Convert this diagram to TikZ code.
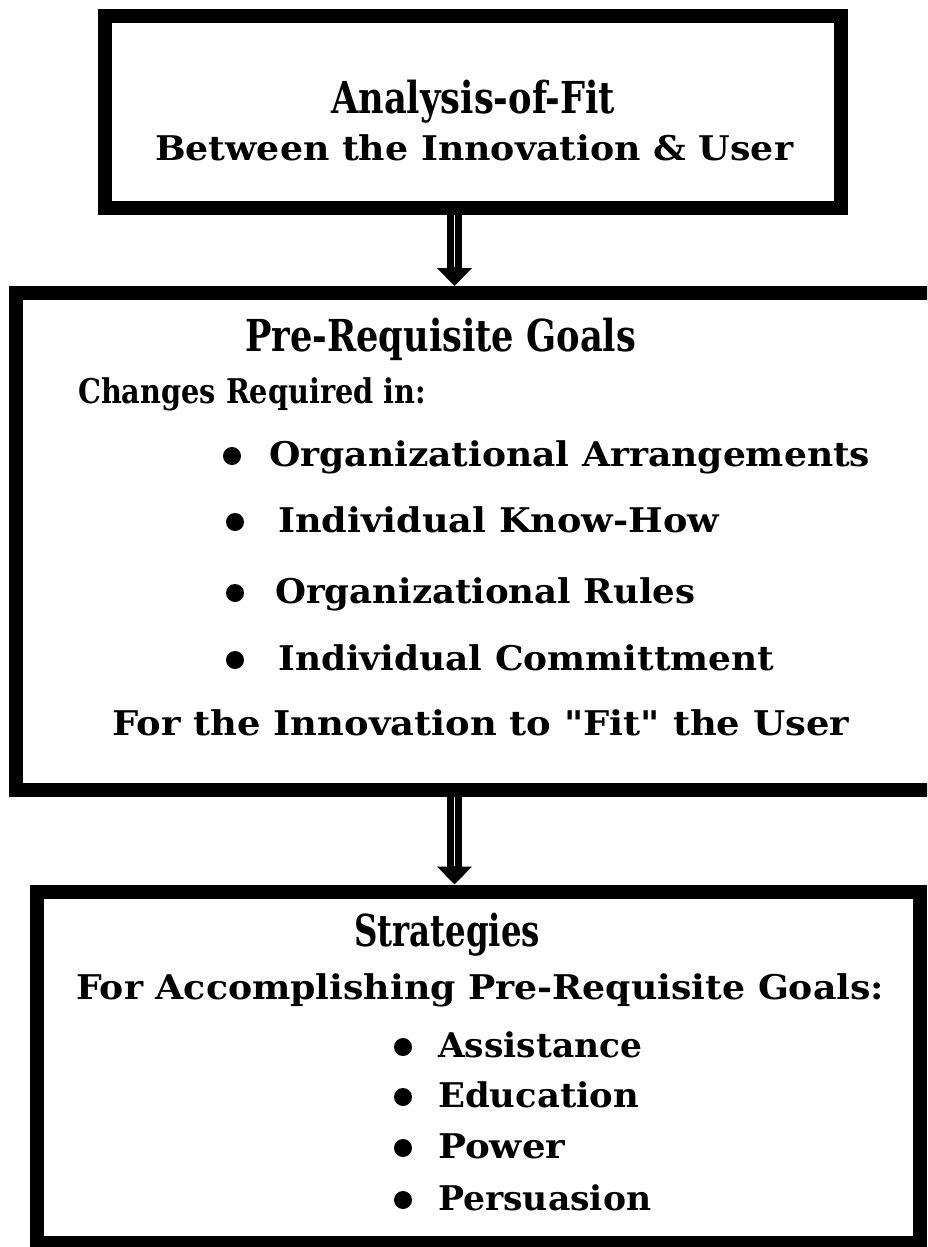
\documentclass[tikz,border=0pt]{standalone}
\usepackage{fontspec}
\usepackage{graphicx}
\setmainfont{DejaVu Serif}[Ligatures=TeXOff]
\usetikzlibrary{arrows.meta,calc}
\newcommand\fitw[2]{\resizebox{#1pt}{\height}{#2}}
\begin{document}
\begin{tikzpicture}[x=1pt,y=-1pt,
  box/.style={draw, line width=14pt, inner sep=0pt, fill=none},
  flow/.style={line width=15pt, -{Triangle[width=34pt,length=18pt]}},
  seam/.style={draw=white, line width=0.7pt},
  head/.style={anchor=base west, inner sep=0pt, font=\fontsize{44}{50}\selectfont\bfseries},
  body/.style={anchor=base west, inner sep=0pt, font=\fontsize{34}{40}\selectfont\bfseries},
  dot/.style={circle, fill=black, inner sep=0pt, minimum size=18pt}
]
\useasboundingbox (0,0) rectangle (927,1247);
\clip (0,0) rectangle (927,1247);

% boxes
\node[box, minimum width=736pt, minimum height=192pt] (fit) at (473,112) {};
\node[box, minimum width=934pt, minimum height=497pt] (goals) at (483,541.5) {};
\node[box, minimum width=883pt, minimum height=351pt] (strat) at (478.5,1067) {};

% connectors
\coordinate (ax) at (454.5,0);
\draw[flow] (ax |- fit.south) -- (ax |- goals.north);
\draw[flow] (ax |- goals.south) -- (ax |- strat.north);
\draw[seam] (ax |- fit.south) -- ($(ax |- goals.north)+(0,-19)$);
\draw[seam] (ax |- goals.south) -- ($(ax |- strat.north)+(0,-19)$);

% top box text
\node[head] (t1) at (331,113) {\fitw{284}{Analysis-of-Fit}};
\node[body] (t2) at (155,160) {\fitw{638}{Between the Innovation \& User}};

% middle box text
\node[head] (m1) at (245,351) {\fitw{391}{Pre-Requisite Goals}};
\node[body] (m2) at (78,403) {\fitw{348}{Changes Required in:}};
\node[dot] (b1) at (232,456) {};
\node[body] (m3) at (269,466) {\fitw{601}{Organizational Arrangements}};
\node[dot] (b2) at (235,522) {};
\node[body] (m4) at (278,532) {\fitw{441}{Individual Know-How}};
\node[dot] (b3) at (235,593) {};
\node[body] (m5) at (275,603) {\fitw{420}{Organizational Rules}};
\node[dot] (b4) at (235,660) {};
\node[body] (m6) at (278,670) {\fitw{496}{Individual Committment}};
\node[body] (m7) at (112,735) {\fitw{737}{For the Innovation to "Fit" the User}};

% bottom box text
\node[head] (s1) at (354,946) {\fitw{186}{Strategies}};
\node[body] (s2) at (76,999) {\fitw{808}{For Accomplishing Pre-Requisite Goals:}};
\node[dot] (c1) at (403,1047) {};
\node[body] (s3) at (438,1057) {\fitw{204}{Assistance}};
\node[dot] (c2) at (403,1097) {};
\node[body] (s4) at (438,1107) {\fitw{201}{Education}};
\node[dot] (c3) at (403,1148) {};
\node[body] (s5) at (438,1158) {\fitw{127}{Power}};
\node[dot] (c4) at (403,1200) {};
\node[body] (s6) at (438,1210) {\fitw{213}{Persuasion}};
\end{tikzpicture}
\end{document}
